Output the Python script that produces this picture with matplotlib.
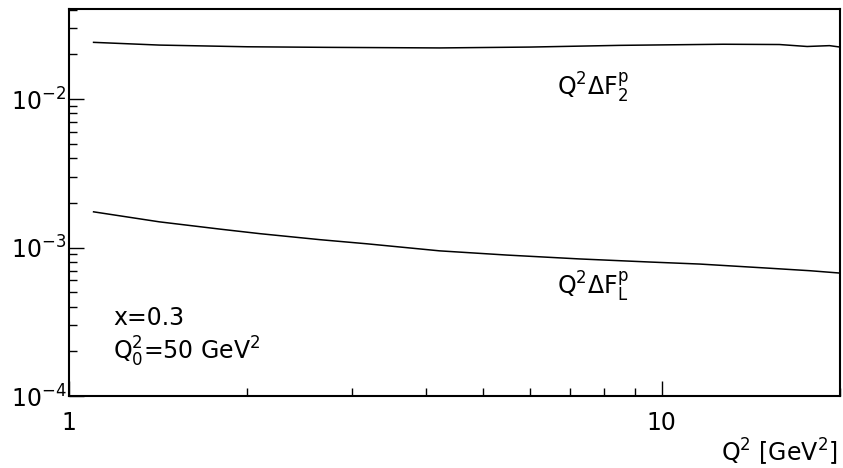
import numpy as np
import matplotlib.pyplot as plt
from matplotlib.ticker import LogLocator, NullFormatter, FixedLocator, FixedFormatter

# values (log-log)
q2_f2 = [1.10, 1.42, 2.00, 2.72, 4.22, 6.0, 8.5, 12.7, 15.8, 17.6, 19.2, 20.0]
f2 = [0.0241, 0.0231, 0.0225, 0.0223, 0.0221, 0.0224, 0.0230, 0.0234, 0.0233,
      0.0226, 0.0229, 0.0224]

q2_fl = [1.10, 1.42, 1.80, 2.10, 2.65, 3.18, 4.22, 5.48, 7.27, 9.54, 11.6,
         15.0, 17.8, 20.0]
fl = [1.74e-3, 1.49e-3, 1.33e-3, 1.24e-3, 1.13e-3, 1.06e-3, 9.5e-4,
      8.9e-4, 8.38e-4, 7.99e-4, 7.74e-4, 7.28e-4, 6.98e-4, 6.73e-4]

x_ticks = [1, 10]
x_labels = ["1", "10"]

plt.rcParams['mathtext.fontset'] = 'dejavusans'

fig = plt.figure(figsize=(8.43, 4.68), dpi=100)
ax = fig.add_axes([0.0819, 0.1538, 0.9146, 0.8269])

ax.plot(q2_f2, f2, color='black', lw=1.1)
ax.plot(q2_fl, fl, color='black', lw=1.1)

ax.set_xscale('log')
ax.set_yscale('log')
ax.set_xlim(1, 20)
ax.set_ylim(1e-4, 0.0404)

ax.xaxis.set_major_locator(FixedLocator(x_ticks))
ax.xaxis.set_major_formatter(FixedFormatter(x_labels))
ax.xaxis.set_minor_locator(LogLocator(base=10, subs=np.arange(2, 10)))
ax.xaxis.set_minor_formatter(NullFormatter())
ax.yaxis.set_major_locator(FixedLocator([1e-4, 1e-3, 1e-2]))
ax.yaxis.set_minor_locator(LogLocator(base=10, subs=np.arange(2, 10)))
ax.yaxis.set_minor_formatter(NullFormatter())

ax.tick_params(which='both', direction='in', top=False, right=False,
               labelsize=17, width=1.0)
ax.tick_params(which='major', length=11)
ax.tick_params(which='minor', length=5.5)
ax.tick_params(axis='x', pad=11)
ax.tick_params(axis='y', pad=2)

for s in ax.spines.values():
    s.set_linewidth(1.5)

# text labels
ax.text(0.633, 0.796, r"$\mathregular{Q^2\Delta F_2^p}$", transform=ax.transAxes,
        fontsize=17, va='center', ha='left')
ax.text(0.633, 0.282, r"$\mathregular{Q^2\Delta F_L^p}$", transform=ax.transAxes,
        fontsize=17, va='center', ha='left')
ax.text(0.057, 0.202, "x=0.3", transform=ax.transAxes,
        fontsize=17, va='center', ha='left')
ax.text(0.057, 0.114, r"$\mathregular{Q_0^2}$=50 GeV$\mathregular{^2}$",
        transform=ax.transAxes, fontsize=17, va='center', ha='left')
ax.text(0.997, -0.145, r"$\mathregular{Q^2}$ [GeV$\mathregular{^2}$]",
        transform=ax.transAxes, fontsize=17, va='center', ha='right')

plt.savefig("out.png", dpi=100)
